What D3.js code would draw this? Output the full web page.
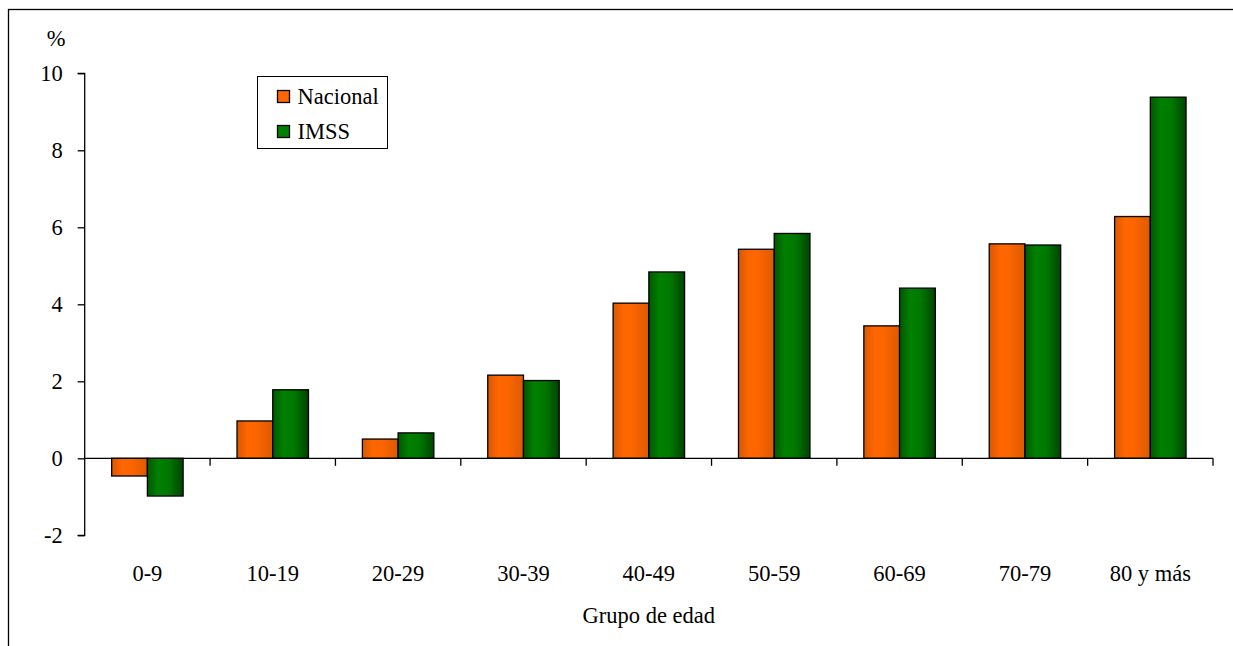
<!DOCTYPE html>
<html>
<head>
<meta charset="utf-8">
<script src="https://cdn.jsdelivr.net/npm/d3@7"></script>
<style>
  body { margin: 0; background: #fff; }
  svg { display: block; }
  svg text { font-family: "Liberation Serif", "DejaVu Serif", serif !important; }
</style>
</head>
<body>
<svg id="chart" width="1233" height="646"></svg>
<script>
// data
const groups = ['0-9', '10-19', '20-29', '30-39', '40-49', '50-59', '60-69', '70-79', '80 y más'];
const nacional = [-0.46, 0.97, 0.50, 2.16, 4.03, 5.43, 3.44, 5.57, 6.28];
const imss = [-0.98, 1.78, 0.66, 2.02, 4.84, 5.84, 4.42, 5.54, 9.38];
const seriesNames = ['Nacional', 'IMSS'];
const yTicks = [-2, 0, 2, 4, 6, 8, 10];

const svg = d3.select('#chart');
const plotL = 84.7, plotR = 1213, plotT = 73.3, plotB = 535.3;
const serif = '"Liberation Serif", "DejaVu Serif", serif';
const fs = 22.5;

// outer frame (only top and left visible in the window)
svg.append('rect')
  .attr('x', 8.5).attr('y', 9.5)
  .attr('width', 1400).attr('height', 800)
  .attr('fill', 'none').attr('stroke', '#000').attr('stroke-width', 1.3);

// gradients
const defs = svg.append('defs');
function grad(id, stops){
  const g = defs.append('linearGradient').attr('id', id)
    .attr('x1', '0%').attr('x2', '100%').attr('y1', '0%').attr('y2', '0%');
  stops.forEach(s => g.append('stop').attr('offset', s[0]).attr('stop-color', s[1]));
}
grad('g-nac', [[0, '#d85800'], [0.3, '#ff6600'], [0.55, '#fc6500'], [1, '#dc5a00']]);
grad('g-imss', [[0, '#005800'], [0.3, '#008000'], [0.6, '#007800'], [1, '#004400']]);
const fills = ['url(#g-nac)', 'url(#g-imss)'];

const rows = groups.map((g, i) => ({ group: g, values: [nacional[i], imss[i]] }));

const x0 = d3.scaleBand().domain(groups).range([plotL, plotR])
  .paddingInner(0.43).paddingOuter(0.215);
const x1 = d3.scaleBand().domain(seriesNames).range([0, x0.bandwidth()]);
const y = d3.scaleLinear().domain([-2, 10]).range([plotB, plotT]);

// bars
const gBars = svg.append('g');
rows.forEach(r => {
  gBars.selectAll(null)
    .data(r.values)
    .join('rect')
    .attr('x', (d, j) => x0(r.group) + x1(seriesNames[j]))
    .attr('y', d => y(Math.max(0, d)))
    .attr('width', x1.bandwidth())
    .attr('height', d => Math.abs(y(d) - y(0)))
    .attr('fill', (d, j) => fills[j])
    .attr('stroke', '#000')
    .attr('stroke-width', 1.3);
});

// y axis
const yAxis = svg.append('g')
  .attr('transform', `translate(${plotL},0)`)
  .call(d3.axisLeft(y).tickValues(yTicks).tickSize(7).tickPadding(15).tickFormat(d => String(d)));
yAxis.attr('font-family', serif);
yAxis.select('.domain').attr('stroke-width', 1.3).attr('d', `M-7,${y(10)}H0V${y(-2)}H-7`);
yAxis.selectAll('.tick line').attr('stroke-width', 1.3);
yAxis.selectAll('.tick text').attr('font-size', fs).attr('fill', '#000');

// x axis along zero with ticks at category boundaries
const step = x0.step();
const boundaries = d3.range(1, groups.length + 1).map(i => plotL + i * step);
const gx = svg.append('g').attr('font-family', serif);
gx.append('line')
  .attr('x1', plotL).attr('x2', plotR)
  .attr('y1', y(0)).attr('y2', y(0))
  .attr('stroke', '#000').attr('stroke-width', 1.3);
gx.selectAll('.bt')
  .data(boundaries)
  .join('line')
  .attr('x1', d => d).attr('x2', d => d)
  .attr('y1', y(0)).attr('y2', y(0) + 7.5)
  .attr('stroke', '#000').attr('stroke-width', 1.3);
gx.selectAll('.lbl')
  .data(groups)
  .join('text')
  .attr('x', d => x0(d) + x0.bandwidth() / 2)
  .attr('y', 573)
  .attr('dy', '0.35em')
  .attr('text-anchor', 'middle')
  .attr('font-size', fs)
  .text(d => d);

// titles
svg.append('text').attr('x', 56).attr('y', 38).attr('dy', '0.35em')
  .attr('font-family', serif)
  .attr('text-anchor', 'middle').attr('font-size', fs).text('%');
svg.append('text').attr('x', (plotL + plotR) / 2).attr('y', 615).attr('dy', '0.35em')
  .attr('font-family', serif)
  .attr('text-anchor', 'middle').attr('font-size', fs).text('Grupo de edad');

// legend
const lg = svg.append('g').attr('transform', 'translate(257.5,76.5)').attr('font-family', serif);
lg.append('rect').attr('width', 130).attr('height', 72)
  .attr('fill', '#fff').attr('stroke', '#000').attr('stroke-width', 1);
seriesNames.forEach((s, i) => {
  const yy = 20 + i * 35;
  lg.append('rect').attr('x', 20).attr('y', yy - 6).attr('width', 12).attr('height', 12)
    .attr('fill', i === 0 ? '#ff6600' : '#008000').attr('stroke', '#000').attr('stroke-width', 1.3);
  lg.append('text').attr('x', 40).attr('y', yy).attr('dy', '0.35em')
    .attr('font-size', fs).text(s);
});
</script>
</body>
</html>
